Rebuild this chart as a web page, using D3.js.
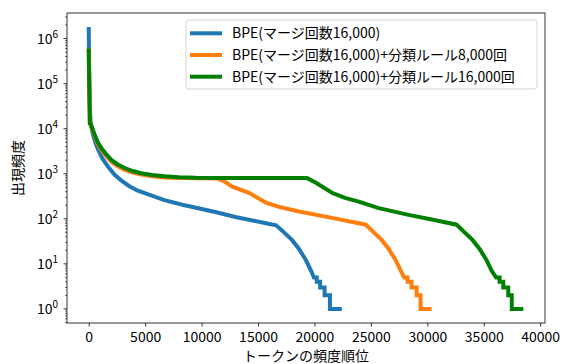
<!DOCTYPE html>
<html>
<head>
<meta charset="utf-8">
<script src="https://cdn.jsdelivr.net/npm/d3@7"></script>
<style>
body { margin: 0; background: #fff; }
text { font-family: "Noto Sans CJK JP", "Noto Sans", sans-serif; fill: #000; }
</style>
</head>
<body>
<script>
//series names (legend order)
var seriesNames = [
	"BPE(マージ回数16,000)",
	"BPE(マージ回数16,000)+分類ルール8,000回",
	"BPE(マージ回数16,000)+分類ルール16,000回"
];
var seriesColors = ["#1f77b4", "#ff7f0e", "#008000"];

//token rank vs frequency
var bpeRank = [0, 40, 100, 180, 380, 600, 820, 1200, 1700, 2300, 2900, 3600, 4350, 5400, 6700, 8300, 9800, 11300, 13000, 14500, 15700, 16600, 17300, 18000, 18600, 19250, 19700, 19950, 20200, 20200, 20500, 20500, 20900, 20900, 21370, 21370, 22430];
var bpeFreq = [1800000, 200000, 30000, 12500, 7300, 4800, 3500, 2200, 1450, 950, 700, 530, 420, 340, 260, 205, 170, 140, 110, 92, 80, 72, 50, 34, 22, 12, 7, 5, 5, 4, 4, 3, 3, 2, 2, 1, 1];

var rule8kRank = [0, 60, 100, 200, 530, 800, 1120, 1500, 2000, 2500, 3180, 3900, 4650, 5600, 6700, 8000, 9500, 11400, 12000, 12720, 14200, 15700, 17000, 18630, 21550, 24550, 25250, 25950, 26550, 27200, 27650, 27950, 28250, 28250, 28600, 28600, 29050, 29050, 29400, 29400, 30380];
var rule8kFreq = [600000, 50000, 13000, 12000, 6800, 4600, 3400, 2550, 1850, 1500, 1220, 1060, 960, 880, 830, 800, 790, 785, 680, 515, 378, 227, 180, 145, 105, 74, 50, 34, 22, 12, 7, 5, 5, 4, 4, 3, 3, 2, 2, 1, 1];

var rule16kRank = [0, 60, 100, 200, 530, 800, 1120, 1500, 2000, 2500, 3180, 3900, 4650, 5600, 6700, 8000, 9500, 11570, 19340, 20130, 21550, 22700, 23930, 25700, 28340, 30500, 32600, 33300, 34000, 34600, 35250, 35700, 36100, 36400, 36400, 36730, 36730, 37170, 37170, 37480, 37480, 38500];
var rule16kFreq = [600000, 50000, 13000, 12300, 7300, 5000, 3700, 2800, 2040, 1650, 1340, 1150, 1030, 940, 880, 840, 815, 805, 800, 630, 378, 290, 240, 172, 122, 95, 74, 50, 34, 22, 12, 7, 5, 5, 4, 4, 3, 3, 2, 2, 1, 1];

var xTicks = [0, 5000, 10000, 15000, 20000, 25000, 30000, 35000, 40000];
var yExponents = [0, 1, 2, 3, 4, 5, 6];

var xLabel = "トークンの頻度順位",
	yLabel = "出現頻度";

var series = [
	{rank: bpeRank, freq: bpeFreq},
	{rank: rule8kRank, freq: rule8kFreq},
	{rank: rule16kRank, freq: rule16kFreq}
];

window.onload = drawChart();

function drawChart(){
	var width = 565,
		height = 364;
	var plot = {left: 67, right: 545, top: 13, bottom: 323};

	var svg = d3.select("body")
		.append("svg")
		.attr("width", width)
		.attr("height", height);

	//matplotlib style 5% margins
	var xMax = d3.max(series, function(s){ return d3.max(s.rank); }),
		xPad = xMax * 0.05;
	var x = d3.scaleLinear()
		.domain([-xPad, xMax + xPad])
		.range([plot.left, plot.right]);

	var yMaxLog = Math.log10(d3.max(series, function(s){ return d3.max(s.freq); })),
		yPad = yMaxLog * 0.05;
	var y = d3.scaleLog()
		.domain([Math.pow(10, -yPad), Math.pow(10, yMaxLog + yPad)])
		.range([plot.bottom, plot.top]);

	//lines
	var line = d3.line()
		.x(function(d){ return x(d[0]); })
		.y(function(d){ return y(d[1]); });

	svg.append("defs").append("clipPath").attr("id", "clip")
		.append("rect")
		.attr("x", plot.left).attr("y", plot.top)
		.attr("width", plot.right - plot.left)
		.attr("height", plot.bottom - plot.top);

	svg.append("g")
		.attr("clip-path", "url(#clip)")
		.selectAll(".series")
		.data(series)
		.enter()
		.append("path")
		.attr("class", "series")
		.attr("fill", "none")
		.attr("stroke", function(d, i){ return seriesColors[i]; })
		.attr("stroke-width", 4)
		.attr("stroke-linejoin", "miter")
		.attr("d", function(d){
			return line(d3.zip(d.rank, d.freq));
		});

	//x axis
	var xAxis = svg.append("g")
		.attr("transform", "translate(0," + plot.bottom + ")")
		.call(d3.axisBottom(x).tickValues(xTicks).tickSize(3.5).tickPadding(3.5).tickFormat(d3.format("d")));
	xAxis.select(".domain").remove();
	xAxis.selectAll("text").attr("font-size", 14).attr("dy", "0.85em");
	xAxis.selectAll("line").attr("stroke", "#000").attr("stroke-width", 0.8);

	//y axis major and minor ticks
	var yAxis = svg.append("g")
		.attr("transform", "translate(" + plot.left + ",0)");
	var majors = yExponents.map(function(e){ return Math.pow(10, e); });
	var minors = [];
	d3.range(-1, 7).forEach(function(e){
		d3.range(2, 10).forEach(function(m){
			var v = m * Math.pow(10, e);
			if (v >= y.domain()[0] && v <= y.domain()[1]) minors.push(v);
		});
	});
	yAxis.selectAll(".minor").data(minors).enter().append("line")
		.attr("x1", -2).attr("x2", 0)
		.attr("y1", function(d){ return y(d); })
		.attr("y2", function(d){ return y(d); })
		.attr("stroke", "#000").attr("stroke-width", 0.6);
	yAxis.selectAll(".major").data(majors).enter().append("line")
		.attr("x1", -3.5).attr("x2", 0)
		.attr("y1", function(d){ return y(d); })
		.attr("y2", function(d){ return y(d); })
		.attr("stroke", "#000").attr("stroke-width", 0.8);
	var yLabels = yAxis.selectAll(".ylab").data(yExponents).enter().append("text")
		.attr("x", -9)
		.attr("y", function(d){ return y(Math.pow(10, d)) + 5; })
		.attr("text-anchor", "end")
		.attr("font-size", 14);
	yLabels.append("tspan").text("10");
	yLabels.append("tspan")
		.attr("dy", -6)
		.attr("font-size", 10)
		.text(function(d){ return d; });

	//frame
	svg.append("rect")
		.attr("x", plot.left).attr("y", plot.top)
		.attr("width", plot.right - plot.left)
		.attr("height", plot.bottom - plot.top)
		.attr("fill", "none")
		.attr("stroke", "#000")
		.attr("stroke-width", 0.8);

	//axis titles
	svg.append("text")
		.attr("x", (plot.left + plot.right) / 2)
		.attr("y", 361)
		.attr("text-anchor", "middle")
		.attr("font-size", 14)
		.text(xLabel);
	svg.append("text")
		.attr("transform", "translate(23," + ((plot.top + plot.bottom) / 2) + ") rotate(-90)")
		.attr("text-anchor", "middle")
		.attr("font-size", 14)
		.text(yLabel);

	//legend
	var legend = svg.append("g");
	legend.append("rect")
		.attr("x", 186).attr("y", 20)
		.attr("width", 351).attr("height", 69)
		.attr("rx", 3)
		.attr("fill", "#fff").attr("fill-opacity", 0.8)
		.attr("stroke", "#ccc").attr("stroke-width", 0.8);
	var items = legend.selectAll(".item")
		.data(seriesNames)
		.enter()
		.append("g")
		.attr("transform", function(d, i){ return "translate(0," + (33.3 + i * 21.7) + ")"; });
	items.append("line")
		.attr("x1", 190).attr("x2", 222)
		.attr("stroke", function(d, i){ return seriesColors[i]; })
		.attr("stroke-width", 4);
	items.append("text")
		.attr("x", 232).attr("y", 5)
		.attr("font-size", 14)
		.text(function(d){ return d; });
};
</script>
</body>
</html>
